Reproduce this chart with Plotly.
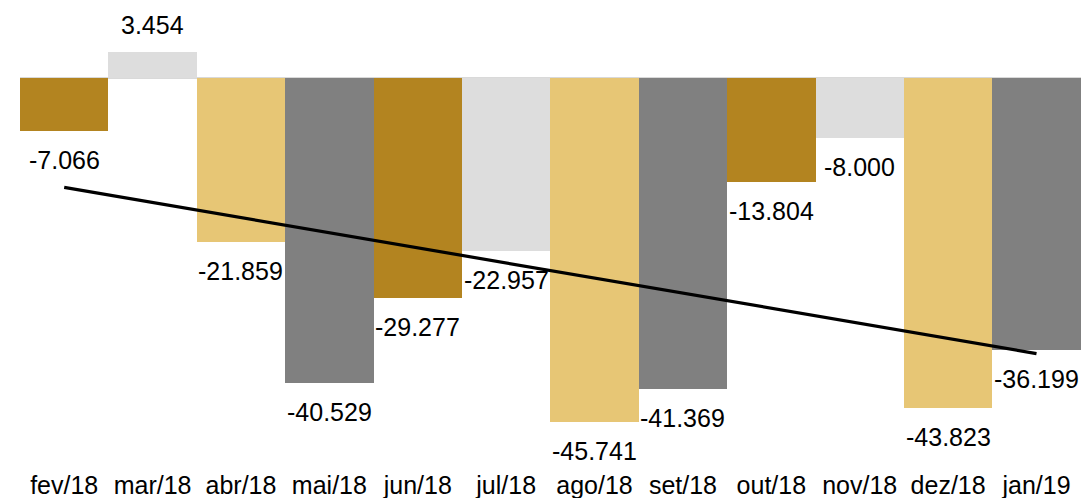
import numpy as np
import plotly.graph_objects as go

months = ["fev/18", "mar/18", "abr/18", "mai/18", "jun/18", "jul/18",
          "ago/18", "set/18", "out/18", "nov/18", "dez/18", "jan/19"]
values = [-7066, 3454, -21859, -40529, -29277, -22957,
          -45741, -41369, -13804, -8000, -43823, -36199]
palette = ["#B38420", "#DDDDDD", "#E7C675", "#808080"]

colors = [palette[i % 4] for i in range(len(values))]
idx = np.arange(len(values))
slope, intercept = np.polyfit(idx, np.array(values, dtype=float), 1)
trend = slope * idx + intercept

FONT = "Arial, Liberation Sans, sans-serif"

fig = go.Figure()
fig.add_trace(go.Bar(x=months, y=values, marker=dict(color=colors, line=dict(width=0)),
                     hoverinfo="skip"))
fig.add_trace(go.Scatter(x=months, y=trend, mode="lines",
                         line=dict(color="black", width=3.2), hoverinfo="skip"))

def fmt(v):
    return f"{v:,}".replace(",", ".")

for m, v in zip(months, values):
    if v < 0:
        fig.add_annotation(x=m, y=v, text=fmt(v), showarrow=False, yanchor="top",
                           yshift=-13, font=dict(family=FONT, size=25, color="black"))
    else:
        fig.add_annotation(x=m, y=v, text=fmt(v), showarrow=False, yanchor="bottom",
                           yshift=11, font=dict(family=FONT, size=25, color="black"))

ymax = 10370
ymin = -51860
fig.update_layout(
    width=1084, height=498,
    margin=dict(l=20, r=3, t=0, b=30, autoexpand=False),
    paper_bgcolor="white", plot_bgcolor="white",
    showlegend=False, bargap=0,
    font=dict(family=FONT, size=25, color="black"),
    xaxis=dict(showgrid=False, showline=False, ticks="", automargin=False,
               tickfont=dict(family=FONT, size=25, color="black")),
    yaxis=dict(range=[ymin, ymax], showgrid=False, showticklabels=False,
               zeroline=True, zerolinecolor="#D9D9D9", zerolinewidth=2,
               automargin=False),
)
fig.write_html("out.html", config={"displayModeBar": False},
               post_script="document.body.style.margin='0';document.body.style.overflow='hidden';")
